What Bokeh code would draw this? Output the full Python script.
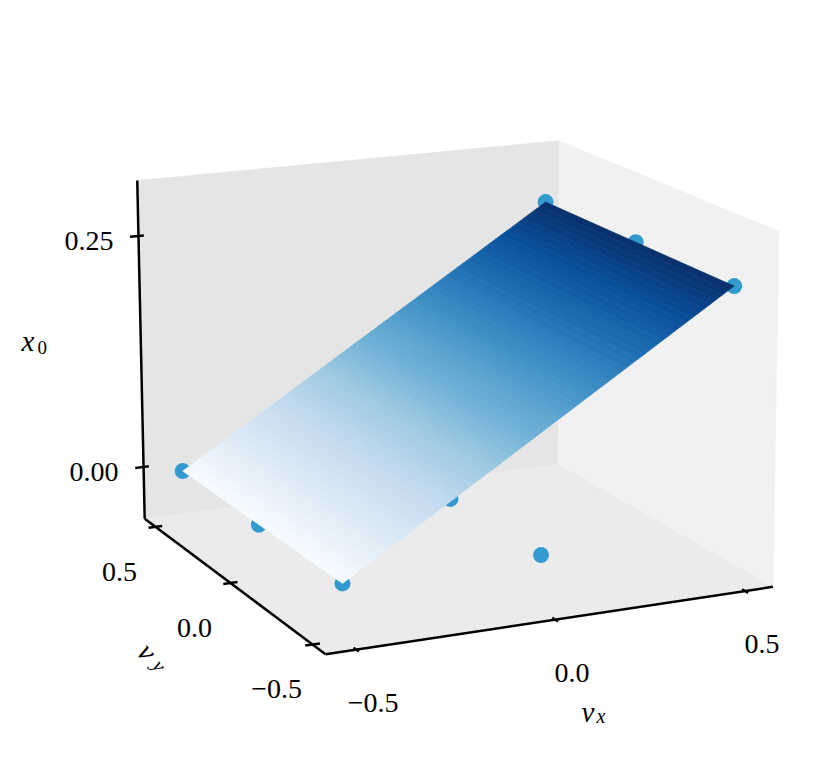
import numpy as np
from bokeh.plotting import figure
from bokeh.models import Range1d
from bokeh.core.properties import value
from bokeh.embed import file_html
from bokeh.resources import INLINE
from bokeh.palettes import Blues256

# ---- data
point_vx = [-0.5, -0.5, -0.5, 0.0, 0.0, 0.0, 0.5, 0.5, 0.5]
point_vy = [0.5, 0.0, -0.5, 0.5, 0.0, -0.5, 0.5, 0.0, -0.5]
point_x0 = [0.0, 0.0, 0.0, 0.0, 0.0, 0.0, 0.25, 0.25, 0.25]
surface_vx = [-0.5, 0.5]
surface_vy = [-0.5, 0.5]
surface_x0 = [0.0, 0.25]
vx_ticks = [-0.5, 0.0, 0.5]
vy_ticks = [-0.5, 0.0, 0.5]
z_ticks = [0.0, 0.25]
vx_labels = ["\u22120.5", "0.0", "0.5"]
vy_labels = ["\u22120.5", "0.0", "0.5"]
z_labels = ["0.00", "0.25"]

# ---- axis limits
XLIM = (-0.575, 0.575)
YLIM = (-0.575, 0.575)
ZLIM = (-0.057, 0.309)

# ---- camera: projective map of the unit box to page pixels
box_uvw = [(0, 0, 0), (1, 0, 0), (0, 1, 0), (1, 1, 0), (0, 1, 1), (1, 1, 1), (1, 0, 1)]
box_px = [(325, 654), (772, 586), (144, 518), (558, 464), (137, 180), (558, 140), (779, 231)]
A, b = [], []
for (u, v, w), (X, Y) in zip(box_uvw, box_px):
    A.append([u, v, w, 1, 0, 0, 0, 0, -X * u, -X * v, -X * w])
    b.append(X)
    A.append([0, 0, 0, 0, u, v, w, 1, -Y * u, -Y * v, -Y * w])
    b.append(Y)
h = np.linalg.lstsq(np.array(A, float), np.array(b, float), rcond=None)[0]
H = np.array([[h[0], h[1], h[2], h[3]], [h[4], h[5], h[6], h[7]], [h[8], h[9], h[10], 1.0]])


def proj(vx, vy, z):
    vx, vy, z = np.broadcast_arrays(np.asarray(vx, float), np.asarray(vy, float), np.asarray(z, float))
    u = (vx - XLIM[0]) / (XLIM[1] - XLIM[0])
    v = (vy - YLIM[0]) / (YLIM[1] - YLIM[0])
    w = (z - ZLIM[0]) / (ZLIM[1] - ZLIM[0])
    m = H @ np.stack([u, v, w, np.ones_like(u)])
    return m[0] / m[2], m[1] / m[2]


p = figure(width=814, height=766, output_backend="svg", toolbar_location=None,
           x_range=Range1d(0, 814), y_range=Range1d(766, 0),
           min_border=0, outline_line_color=None)
p.axis.visible = False
p.grid.visible = False
p.background_fill_color = "white"
p.border_fill_color = "white"

# ---- panes
x0l, x1l = XLIM
y0l, y1l = YLIM
z0l, z1l = ZLIM
panes = [
    ([x0l, x1l, x1l, x0l], [y1l] * 4, [z1l, z1l, z0l, z0l], "#e5e5e5"),
    ([x1l] * 4, [y1l, y0l, y0l, y1l], [z1l, z1l, z0l, z0l], "#f1f1f1"),
    ([x0l, x1l, x1l, x0l], [y0l, y0l, y1l, y1l], [z0l] * 4, "#ebebeb"),
]
for ax, ay, az, col in panes:
    sx, sy = proj(ax, ay, az)
    p.patch(sx, sy, fill_color=col, line_color=col, line_width=0.5)

# ---- axis lines
LW = 2.5
for ax, ay, az in [([x0l, x1l], [y0l, y0l], [z0l, z0l]),
                   ([x0l, x0l], [y0l, y1l], [z0l, z0l]),
                   ([x0l, x0l], [y1l, y1l], [z0l, z1l])]:
    sx, sy = proj(ax, ay, az)
    p.line(sx, sy, line_color="black", line_width=LW)

# ---- ticks
def tick(a0, a1):
    sx, sy = proj(*a0)
    ex, ey = proj(*a1)
    p.segment(sx, sy, ex, ey, line_color="black", line_width=LW)

tv = np.array(vx_ticks)
tick((tv, y0l - 0.015, z0l), (tv, y0l + 0.015, z0l))
tv = np.array(vy_ticks)
tick((x0l - 0.018, tv, z0l), (x0l + 0.018, tv, z0l))
tv = np.array(z_ticks)
tick((x0l - 0.022, y1l, tv), (x0l + 0.014, y1l, tv))

# ---- tick labels
FONT = value("Liberation Serif")
TS = "28px"
sx, sy = proj(vx_ticks, y0l, z0l)
p.text(sx + 17, sy + 53, text=vx_labels, text_font=FONT, text_font_size=TS,
       text_align="center", text_baseline="middle", text_color="black")
sx, sy = proj(x0l, vy_ticks, z0l)
p.text(sx - 36, sy + 45, text=vy_labels, text_font=FONT, text_font_size=TS,
       text_align="center", text_baseline="middle", text_color="black")
sx, sy = proj(x0l, y1l, z_ticks)
p.text(sx - 25, sy + 5, text=z_labels, text_font=FONT, text_font_size=TS,
       text_align="right", text_baseline="middle", text_color="black")

# ---- axis labels
def lab(x, y, t, size="29px", angle=0.0, align="left", base="middle", style="italic"):
    p.text([x], [y], text=[t], text_font=FONT, text_font_size=size, text_font_style=style,
           angle=angle, text_align=align, text_baseline=base, text_color="black")

lab(21, 340, "x")
lab(37, 347, "0", size="19px", style="normal")
lab(581, 711, "v")
lab(596, 715, "x", size="20px")
lab(147, 651, "v", angle=-0.9, align="center")
lab(159, 665, "y", size="20px", angle=-0.9, align="center")

# ---- scatter
sx, sy = proj(point_vx, point_vy, point_x0)
p.scatter(sx, sy, size=16, fill_color="#329acf", line_color=None)

# ---- surface
palette = list(reversed(Blues256))
N = 64
vx_edges = np.linspace(surface_vx[0], surface_vx[1], N + 1)
z_edges = np.linspace(surface_x0[0], surface_x0[1], N + 1)
xs, ys, cols = [], [], []
for i in range(N):
    ax = [vx_edges[i], vx_edges[i + 1], vx_edges[i + 1], vx_edges[i]]
    ay = [surface_vy[0], surface_vy[0], surface_vy[1], surface_vy[1]]
    az = [z_edges[i], z_edges[i + 1], z_edges[i + 1], z_edges[i]]
    qx, qy = proj(ax, ay, az)
    xs.append(list(qx))
    ys.append(list(qy))
    cols.append(palette[int(round((i + 0.5) / N * 255))])
p.patches(xs, ys, fill_color=cols, line_color=cols, line_width=0.6)

open("out.html", "w").write(file_html(p, INLINE))
